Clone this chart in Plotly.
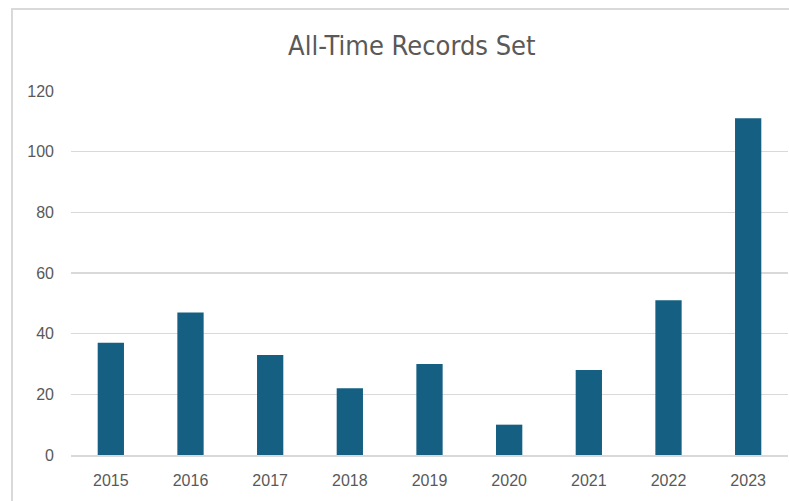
import plotly.graph_objects as go

years = ["2015", "2016", "2017", "2018", "2019", "2020", "2021", "2022", "2023"]
records = [37, 47, 33, 22, 30, 10, 28, 51, 111]
y_ticks = [0, 20, 40, 60, 80, 100, 120]

fig = go.Figure(
    go.Bar(x=years, y=records, marker=dict(color="#156082", line=dict(width=0)))
)

fig.update_layout(
    width=789,
    height=501,
    margin=dict(l=71, r=1, t=91, b=46),
    paper_bgcolor="white",
    plot_bgcolor="white",
    bargap=0.67,
    showlegend=False,
    title=dict(
        text="All-Time Records Set",
        x=0.522,
        xanchor="center",
        y=0.91,
        yanchor="middle",
        font=dict(family="Liberation Sans Narrow, DejaVu Sans Condensed, sans-serif", size=27, color="#595959"),
    ),
    font=dict(family="Liberation Sans, Arial, sans-serif", size=16, color="#595959"),
    xaxis=dict(
        showgrid=False,
        showline=True,
        linecolor="#d9d9d9",
        linewidth=1.5,
        ticks="",
        ticklabelstandoff=10,
        tickfont=dict(size=16, color="#595959"),
    ),
    yaxis=dict(
        range=[0, 120],
        tickvals=y_ticks,
        showgrid=True,
        gridcolor="#d9d9d9",
        gridwidth=1.5,
        zeroline=False,
        showline=False,
        ticks="",
        ticklabelstandoff=16,
        tickfont=dict(size=16, color="#595959"),
    ),
    shapes=[
        dict(
            type="rect",
            xref="paper",
            yref="paper",
            x0=-0.0823,
            x1=1.05,
            y0=-0.2,
            y1=1.2253,
            line=dict(color="#d9d9d9", width=2),
            fillcolor="rgba(0,0,0,0)",
            layer="below",
        )
    ],
)

fig.write_html(
    "out.html",
    config={"displayModeBar": False, "staticPlot": True},
    post_script="document.body.style.margin='0';document.body.style.overflow='hidden';",
)
